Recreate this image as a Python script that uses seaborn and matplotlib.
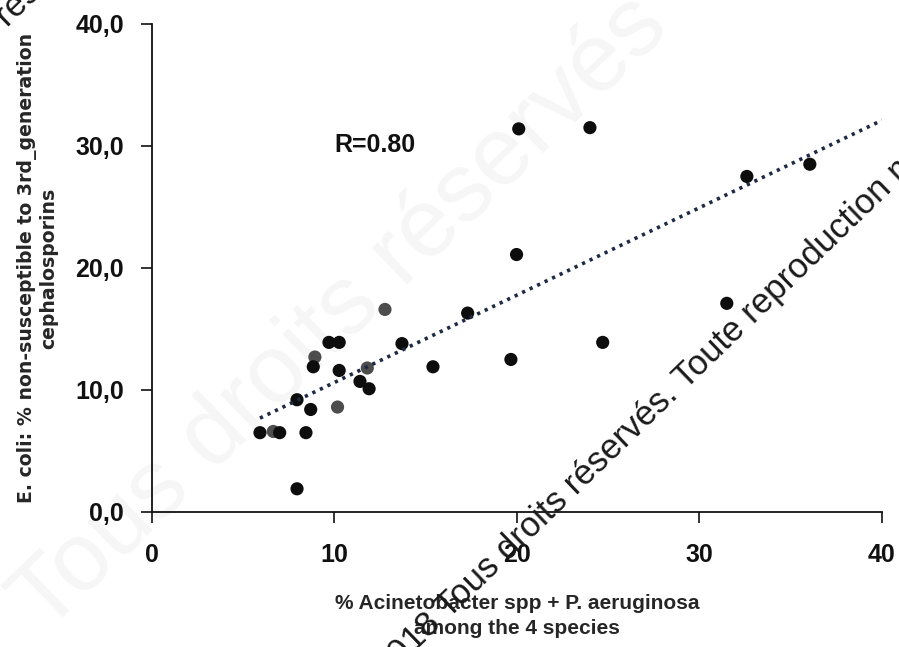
import numpy as np
import pandas as pd
import matplotlib
matplotlib.use("Agg")
import matplotlib.pyplot as plt
import seaborn as sns

# ── Data ─────────────────────────────────────────────────────────────────────
acineto_pct = [12.77, 9.70, 10.26, 13.7, 15.4, 8.93, 8.84, 10.26, 11.8, 11.4,
               11.9, 7.95, 8.7, 10.17, 5.92, 6.65, 7.0, 8.44, 7.95, 20.1,
               24.0, 32.6, 36.05, 19.98, 17.3, 19.67, 24.7, 31.5]
ecoli_pct = [16.6, 13.9, 13.9, 13.8, 11.9, 12.7, 11.9, 11.6, 11.8, 10.7,
             10.1, 9.2, 8.4, 8.6, 6.5, 6.6, 6.5, 6.5, 1.9, 31.4,
             31.5, 27.5, 28.5, 21.1, 16.3, 12.5, 13.9, 17.1]
shade = ["grey", "dark", "dark", "dark", "dark", "grey", "dark", "dark", "grey", "dark",
         "dark", "dark", "dark", "grey", "dark", "grey", "dark", "dark", "dark", "dark",
         "dark", "dark", "dark", "dark", "dark", "dark", "dark", "dark"]

x_ticks = [0, 10, 20, 30, 40]
y_ticks = [0, 10, 20, 30, 40]
y_tick_labels = ["0,0", "10,0", "20,0", "30,0", "40,0"]
r_label = "R=0.80"
watermark = "©2018 Tous droits réservés. Toute reproduction même partielle interdite"

df = pd.DataFrame({"x": acineto_pct, "y": ecoli_pct, "shade": shade})

sns.set_theme(style="white")
plt.rcParams["font.family"] = ["Liberation Sans Narrow", "Liberation Sans", "DejaVu Sans"]
wm_font = ["Liberation Sans", "DejaVu Sans"]

fig = plt.figure(figsize=(8.99, 6.47), dpi=100)
ax = fig.add_axes([0.169, 0.2087, 0.812, 0.7543])
ax.patch.set_alpha(0)

# very faint background watermark, behind the axes
fig.text(0.05, 0.02, "Tous droits réservés", rotation=44,
         fontsize=70, color="#f6f6f6", family=wm_font,
         rotation_mode="anchor", ha="left", va="baseline", zorder=-1)

sns.scatterplot(data=df, x="x", y="y", hue="shade",
                palette={"dark": "#0d0d0d", "grey": "#4d4d4d"},
                s=90, edgecolor="none", legend=False, ax=ax, zorder=3)

# linear trend line (least squares), forecast to x=40
slope, intercept = np.polyfit(df["x"], df["y"], 1)
tx = np.array([df["x"].min(), 40])
ax.plot(tx, slope * tx + intercept, color="#1c2a44", lw=2.6,
        linestyle=(0, (0.9, 1.4)), zorder=4)

ax.text(12.2, 30.1, r_label, fontsize=18, fontweight="bold",
        ha="center", va="center", color="#111111")

ax.set_xlim(0, 40)
ax.set_ylim(0, 40)
ax.set_xticks(x_ticks)
ax.set_yticks(y_ticks)
ax.set_yticklabels(y_tick_labels)
ax.tick_params(axis="x", direction="out", length=8, width=1.2, pad=14,
               labelsize=18, colors="#111111")
ax.tick_params(axis="y", direction="out", length=8, width=1.2, pad=12,
               labelsize=18, colors="#111111")
ax.tick_params(axis="both", bottom=True, left=True)
for lab in ax.get_xticklabels() + ax.get_yticklabels():
    lab.set_fontweight("bold")

for side in ["top", "right"]:
    ax.spines[side].set_visible(False)
for side in ["left", "bottom"]:
    ax.spines[side].set_color("#111111")
    ax.spines[side].set_linewidth(1.3)

ax.set_xlabel("% Acinetobacter spp + P. aeruginosa\namong the 4 species",
              fontsize=15, fontweight="bold", labelpad=20, linespacing=1.4)
ax.set_ylabel("E. coli: % non-susceptible to 3rd_generation\ncephalosporins",
              fontsize=13.6, fontweight="bold", labelpad=12, linespacing=1.15,
              family=["DejaVu Sans"])

# dark diagonal watermark lines
fig.text(0.409, -0.077, watermark, rotation=44, fontsize=25, color="#1a1a1a",
         family=wm_font, rotation_mode="anchor",
         ha="left", va="baseline", zorder=10)
fig.text(-0.223, 0.646, watermark, rotation=44, fontsize=25, color="#1a1a1a",
         family=wm_font, rotation_mode="anchor",
         ha="left", va="baseline", zorder=10)

fig.savefig("out.png", dpi=100)
